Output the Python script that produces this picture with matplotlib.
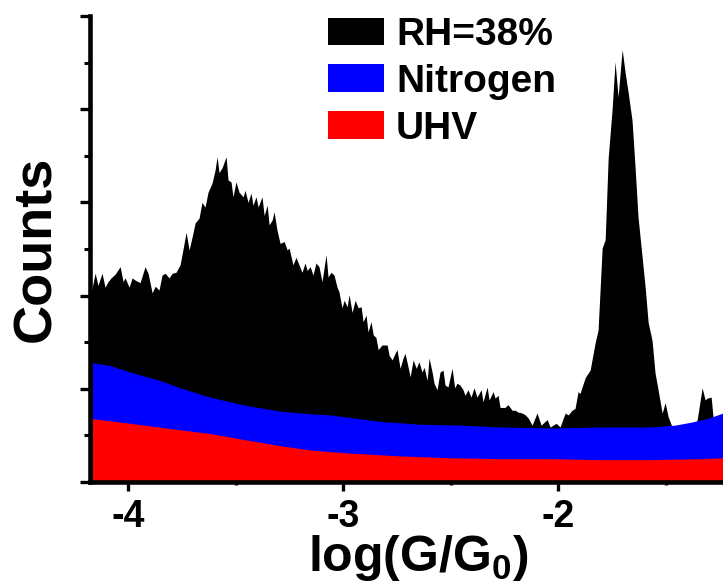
"""
Conductance histograms of the junction measured under three environments:
humid air (RH=38%), dry nitrogen and ultra-high vacuum.
"""

import numpy as np
import matplotlib
matplotlib.use("Agg")
import matplotlib.pyplot as plt
from matplotlib.patches import Patch
from matplotlib.ticker import MultipleLocator

# ---------------------------------------------------------------------------
# Histogram data (log(G/G0) vs counts, arbitrary count units)
# ---------------------------------------------------------------------------
RH_X = [-4.172, -4.153, -4.140, -4.121, -4.107, -4.093, -4.079, -4.060, -4.037, -4.023,
        -4.014, -3.995, -3.981, -3.963, -3.944, -3.921, -3.907, -3.888, -3.874, -3.856,
        -3.842, -3.828, -3.809, -3.795, -3.777, -3.758, -3.749, -3.730, -3.716, -3.702,
        -3.688, -3.670, -3.656, -3.642, -3.628, -3.609, -3.595, -3.586, -3.577, -3.563,
        -3.544, -3.535, -3.521, -3.512, -3.498, -3.484, -3.465, -3.456, -3.442, -3.428,
        -3.419, -3.405, -3.395, -3.377, -3.367, -3.353, -3.344, -3.330, -3.321, -3.307,
        -3.293, -3.274, -3.260, -3.251, -3.233, -3.219, -3.205, -3.191, -3.177, -3.167,
        -3.153, -3.140, -3.126, -3.112, -3.098, -3.079, -3.070, -3.056, -3.042, -3.028,
        -3.019, -3.005, -2.995, -2.981, -2.972, -2.958, -2.944, -2.930, -2.916, -2.907,
        -2.893, -2.884, -2.870, -2.860, -2.847, -2.837, -2.819, -2.795, -2.786, -2.772,
        -2.758, -2.749, -2.735, -2.721, -2.712, -2.702, -2.688, -2.674, -2.660, -2.647,
        -2.633, -2.623, -2.609, -2.600, -2.586, -2.577, -2.563, -2.549, -2.535, -2.526,
        -2.512, -2.493, -2.481, -2.470, -2.456, -2.442, -2.433, -2.419, -2.405, -2.391,
        -2.377, -2.358, -2.349, -2.330, -2.321, -2.302, -2.293, -2.279, -2.270, -2.247,
        -2.233, -2.214, -2.200, -2.186, -2.167, -2.153, -2.140, -2.121, -2.098, -2.079,
        -2.051, -2.037, -2.009, -1.991, -1.967, -1.953, -1.935, -1.921, -1.907, -1.898,
        -1.874, -1.851, -1.828, -1.814, -1.795, -1.781, -1.767, -1.749, -1.735, -1.721,
        -1.702, -1.688, -1.674, -1.656, -1.642, -1.628, -1.609, -1.595, -1.581, -1.563,
        -1.549, -1.535, -1.516, -1.502, -1.488, -1.470, -1.386, -1.353, -1.330, -1.316,
        -1.307, -1.288, -1.279, -1.256, -1.233]
RH_Y = [2.03, 2.24, 2.11, 2.24, 2.09, 2.15, 2.19, 2.23, 2.31, 2.15,
        2.19, 2.09, 2.19, 2.16, 2.14, 2.31, 2.24, 2.03, 2.10, 2.06,
        2.22, 2.24, 2.19, 2.24, 2.25, 2.33, 2.44, 2.68, 2.49, 2.63,
        2.78, 2.83, 3.00, 2.95, 3.11, 3.21, 3.35, 3.49, 3.32, 3.37,
        3.49, 3.24, 3.22, 3.06, 3.22, 3.11, 3.06, 3.13, 3.00, 3.10,
        2.97, 3.06, 2.95, 3.06, 2.86, 2.97, 2.76, 2.81, 2.90, 2.70,
        2.56, 2.58, 2.49, 2.51, 2.33, 2.41, 2.33, 2.25, 2.35, 2.27,
        2.31, 2.22, 2.35, 2.31, 2.15, 2.44, 2.20, 2.25, 2.22, 2.09,
        2.04, 1.87, 1.95, 1.88, 2.01, 1.82, 1.95, 1.87, 1.88, 1.72,
        1.79, 1.61, 1.72, 1.58, 1.55, 1.42, 1.47, 1.47, 1.36, 1.31,
        1.38, 1.42, 1.22, 1.33, 1.38, 1.28, 1.13, 1.31, 1.22, 1.29,
        1.18, 1.23, 1.09, 1.33, 1.18, 1.06, 0.99, 1.18, 1.20, 1.04,
        1.02, 1.22, 1.01, 1.06, 1.04, 0.99, 0.93, 0.99, 0.91, 1.01,
        0.91, 0.99, 0.86, 1.02, 0.88, 0.97, 0.90, 0.93, 0.80, 0.80,
        0.83, 0.77, 0.77, 0.75, 0.74, 0.72, 0.69, 0.61, 0.74, 0.61,
        0.67, 0.59, 0.63, 0.59, 0.74, 0.72, 0.77, 0.79, 0.97, 0.95,
        1.12, 1.20, 1.49, 1.63, 2.51, 2.60, 3.48, 3.99, 4.51, 4.13,
        4.64, 4.39, 4.18, 3.88, 3.38, 2.84, 2.41, 2.09, 1.71, 1.52,
        1.17, 0.99, 0.74, 0.85, 0.70, 0.59, 0.50, 0.67, 1.01, 0.88,
        0.90, 0.91, 0.69, 0.67, 0.70]

N2_X = [-4.167, -4.084, -3.991, -3.851, -3.758, -3.619, -3.447, -3.293, -3.140, -3.060,
        -2.828, -2.642, -2.456, -2.270, -2.037, -1.805, -1.572, -1.456, -1.386, -1.307,
        -1.233]
N2_Y = [1.28, 1.25, 1.18, 1.09, 1.01, 0.91, 0.82, 0.76, 0.73, 0.72,
        0.65, 0.62, 0.61, 0.59, 0.58, 0.59, 0.59, 0.61, 0.64, 0.68,
        0.74]

UHV_X = [-4.167, -3.991, -3.758, -3.619, -3.447, -3.293, -3.140, -2.967, -2.735, -2.502,
         -2.270, -2.037, -1.805, -1.572, -1.340, -1.233]
UHV_Y = [0.68, 0.63, 0.56, 0.52, 0.45, 0.39, 0.34, 0.31, 0.28, 0.26,
         0.25, 0.25, 0.24, 0.24, 0.25, 0.26]

LABELS = ["RH=38%", "Nitrogen", "UHV"]
COLORS = ["#000000", "#0000ff", "#ff0000"]

XLIM = (-4.177, -1.233)
YLIM = (0, 5)


def main():
    plt.rcParams["font.family"] = ["Liberation Sans", "DejaVu Sans"]
    plt.rcParams["font.weight"] = "bold"
    plt.rcParams["axes.unicode_minus"] = False
    plt.rcParams["mathtext.fontset"] = "custom"
    plt.rcParams["mathtext.bf"] = "Liberation Sans:bold"
    plt.rcParams["mathtext.rm"] = "Liberation Sans:bold"
    plt.rcParams["mathtext.default"] = "bf"

    fig = plt.figure(figsize=(7.23, 5.85), dpi=100)
    ax = fig.add_axes([90 / 723, 103 / 585, 633 / 723, 466 / 585])

    # stacked back to front: humid air, nitrogen, vacuum
    series = [(RH_X, RH_Y), (N2_X, N2_Y), (UHV_X, UHV_Y)]
    for (xs, ys), c in zip(series, COLORS):
        ax.fill_between(np.asarray(xs), 0, np.asarray(ys), color=c, lw=0)

    ax.set_xlim(*XLIM)
    ax.set_ylim(*YLIM)

    for side in ("top", "right"):
        ax.spines[side].set_visible(False)
    for side in ("left", "bottom"):
        ax.spines[side].set_linewidth(3.3)

    ax.xaxis.set_major_locator(MultipleLocator(1))
    ax.xaxis.set_minor_locator(MultipleLocator(0.5))
    ax.yaxis.set_major_locator(MultipleLocator(1))
    ax.yaxis.set_minor_locator(MultipleLocator(0.5))
    ax.tick_params(axis="x", which="major", direction="out", length=6.5,
                   width=2.4, pad=6, labelsize=27)
    ax.tick_params(axis="x", which="minor", direction="out", length=2.5, width=2.4)
    ax.tick_params(axis="y", which="major", direction="out", length=7.5,
                   width=2.4, labelleft=False)
    ax.tick_params(axis="y", which="minor", direction="out", length=4.5, width=2.2)
    for lab in ax.get_xticklabels():
        lab.set_fontweight("bold")

    ax.set_xlabel(r"log(G/G$_0$)", fontsize=36, fontweight="bold", va="top")
    ax.xaxis.set_label_coords(0.518, -0.11)
    ax.set_ylabel("Counts", fontsize=39, fontweight="bold")
    ax.yaxis.set_label_coords(-0.045, 0.5)

    handles = [Patch(facecolor=c, edgecolor="none") for c in COLORS]
    ax.legend(handles, LABELS, loc="upper left", bbox_to_anchor=(328 / 723, 1 - 17 / 585),
              bbox_transform=fig.transFigure, frameon=False,
              handlelength=1.45, handleheight=0.72, handletextpad=0.3,
              labelspacing=0.28, borderpad=0, borderaxespad=0,
              prop={"weight": "bold", "size": 28})

    fig.savefig("out.png", dpi=100)
    plt.close(fig)


if __name__ == "__main__":
    main()
